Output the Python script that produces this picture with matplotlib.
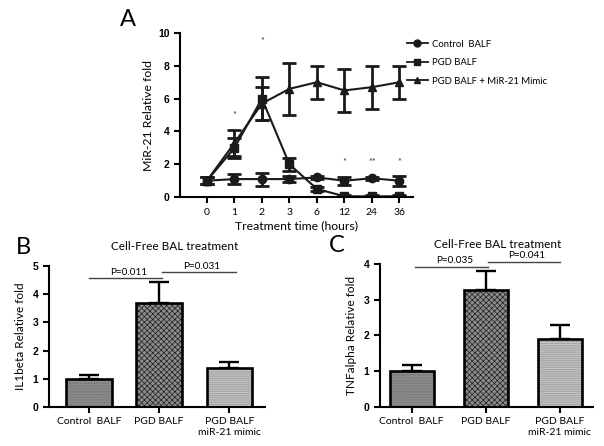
import matplotlib
matplotlib.use('Agg')
import matplotlib.pyplot as plt
from matplotlib.font_manager import FontProperties
from matplotlib.lines import Line2D
import numpy as np

plt.rcParams['font.family'] = ['Lato', 'DejaVu Sans']
plt.rcParams['hatch.linewidth'] = 0.5

# panel A: miR-21 time course
time_labels = ['0', '1', '2', '3', '6', '12', '24', '36']
control_mean = [1.0, 1.1, 1.1, 1.1, 1.2, 1.0, 1.15, 1.0]
control_err = [0.2, 0.3, 0.4, 0.2, 0.1, 0.25, 0.1, 0.3]
pgd_mean = [1.0, 3.0, 6.0, 2.0, 0.5, 0.05, 0.05, 0.05]
pgd_err = [0.2, 0.6, 1.3, 0.4, 0.1, 0.1, 0.1, 0.1]
mimic_mean = [1.0, 3.3, 5.7, 6.6, 7.0, 6.5, 6.7, 7.0]
mimic_err = [0.2, 0.8, 1.0, 1.6, 1.0, 1.3, 1.3, 1.0]
star_idx = [1, 2, 5, 6, 7]
star_y = [5.0, 9.5, 2.1, 2.1, 2.1]
star_txt = ['*', '*', '*', '**', '*']

# panels B and C: bar charts
groups = ['Control  BALF', 'PGD BALF', 'PGD BALF\nmiR-21 mimic']
il1b_mean = [1.0, 3.68, 1.4]
il1b_err = [0.15, 0.77, 0.2]
il1b_p = ['P=0.011', 'P=0.031']
tnfa_mean = [1.0, 3.27, 1.9]
tnfa_err = [0.17, 0.53, 0.38]
tnfa_p = ['P=0.035', 'P=0.041']

fig = plt.figure(figsize=(6.04, 4.46), dpi=100)

tick_fp = FontProperties(family=['Liberation Sans', 'DejaVu Sans'], weight='bold', size=7.5)


def style_axis(ax):
    for s in ['top', 'right']:
        ax.spines[s].set_visible(False)
    for s in ['left', 'bottom']:
        ax.spines[s].set_linewidth(1.5)
    ax.tick_params(width=1.5, length=4, labelsize=7.5)
    for lbl in ax.get_yticklabels():
        lbl.set_fontproperties(tick_fp)


# ---- A
axA = fig.add_axes([0.298, 0.558, 0.386, 0.368])
x = np.arange(len(time_labels))
series = [(control_mean, control_err, 'o', 'Control  BALF'),
          (pgd_mean, pgd_err, 's', 'PGD BALF'),
          (mimic_mean, mimic_err, '^', 'PGD BALF + MiR-21 Mimic')]
handles = []
for mean, err, mk, lab in series:
    axA.errorbar(x, mean, yerr=err, color='#1a1a1a', marker=mk, markersize=6,
                 lw=1.5, elinewidth=2.0, capsize=5, capthick=2.0)
    handles.append(Line2D([], [], color='#1a1a1a', marker=mk, markersize=5,
                          lw=1.3, label=lab))
for i, yv, t in zip(star_idx, star_y, star_txt):
    axA.text(i, yv, t, ha='center', va='center', fontsize=6.5, color='#333333')
axA.set_xlim(-0.98, 7.5)
axA.set_ylim(0, 10)
axA.set_xticks(x)
axA.set_xticklabels(time_labels, fontsize=7.5)
axA.set_yticks([0, 2, 4, 6, 8, 10])
style_axis(axA)
axA.set_xlabel('Treatment time (hours)', fontsize=8.8, labelpad=3)
axA.set_ylabel('MiR-21 Relative fold', fontsize=8.8, labelpad=3)
axA.legend(handles=handles, loc='upper left', bbox_to_anchor=(0.945, 1.0), frameon=False,
           fontsize=6.8, handlelength=2.2, handletextpad=0.5, borderaxespad=0.3,
           labelspacing=1.0)
fig.text(0.212, 0.957, 'A', fontsize=17, ha='center', va='center')

# ---- bar panels
faces = ['#8a8a8a', '#8c8c8c', '#c4c4c4']
hatch_col = ['#6e6e6e', '#1e1e1e', '#9a9a9a']
hatches = ['......', 'xxxxxx', '---------']


def bar_panel(rect, mean, err, pvals, ylim, yticks, ylabel, xlim, width,
              lines, ptxt, title_x, label, label_pos):
    ax = fig.add_axes(rect)
    pos = np.arange(len(groups))
    ax.bar(pos, mean, width=width, color=faces, edgecolor=hatch_col, linewidth=0,
           hatch=hatches, zorder=2)
    ax.bar(pos, mean, width=width, color='none', edgecolor='black', linewidth=1.9,
           zorder=3)
    ax.errorbar(pos, mean, yerr=[np.zeros(len(err)), err], fmt='none',
                ecolor='black', elinewidth=1.7, capsize=7, capthick=1.7, zorder=1)
    ax.set_xlim(*xlim)
    ax.set_ylim(*ylim)
    ax.set_yticks(yticks)
    ax.set_xticks(pos)
    ax.set_xticklabels(groups, fontsize=7.5)
    style_axis(ax)
    ax.set_ylabel(ylabel, fontsize=8.5, labelpad=5)
    for (x0, x1, yv), (tx, ty), p in zip(lines, ptxt, pvals):
        ax.plot([x0, x1], [yv, yv], color='#444444', lw=1.0, clip_on=False)
        ax.text(tx, ty, p, ha='center', va='bottom', fontsize=7.2, clip_on=False)
    ax.text(title_x, 1.1, 'Cell-Free BAL treatment', transform=ax.transAxes,
            ha='center', va='bottom', fontsize=8.5)
    fig.text(label_pos[0], label_pos[1], label, fontsize=17, ha='center', va='center')
    return ax


bar_panel([0.081, 0.0874, 0.358, 0.316], il1b_mean, il1b_err, il1b_p,
          (0, 5), [0, 1, 2, 3, 4, 5], 'IL1beta Relative fold', (-0.57, 2.51), 0.65,
          [(0.0, 1.04, 4.57), (1.04, 2.1, 4.79)], [(0.56, 4.62), (1.6, 4.84)],
          0.58, 'B', (0.038, 0.445))
bar_panel([0.629, 0.0874, 0.353, 0.321], tnfa_mean, tnfa_err, tnfa_p,
          (0, 4), [0, 1, 2, 3, 4], 'TNFalpha Relative fold', (-0.43, 2.45), 0.6,
          [(0.05, 1.03, 3.92), (1.03, 2.0, 4.06)], [(0.58, 3.96), (1.55, 4.1)],
          0.55, 'C', (0.558, 0.45))

fig.savefig('out.png', dpi=100)
